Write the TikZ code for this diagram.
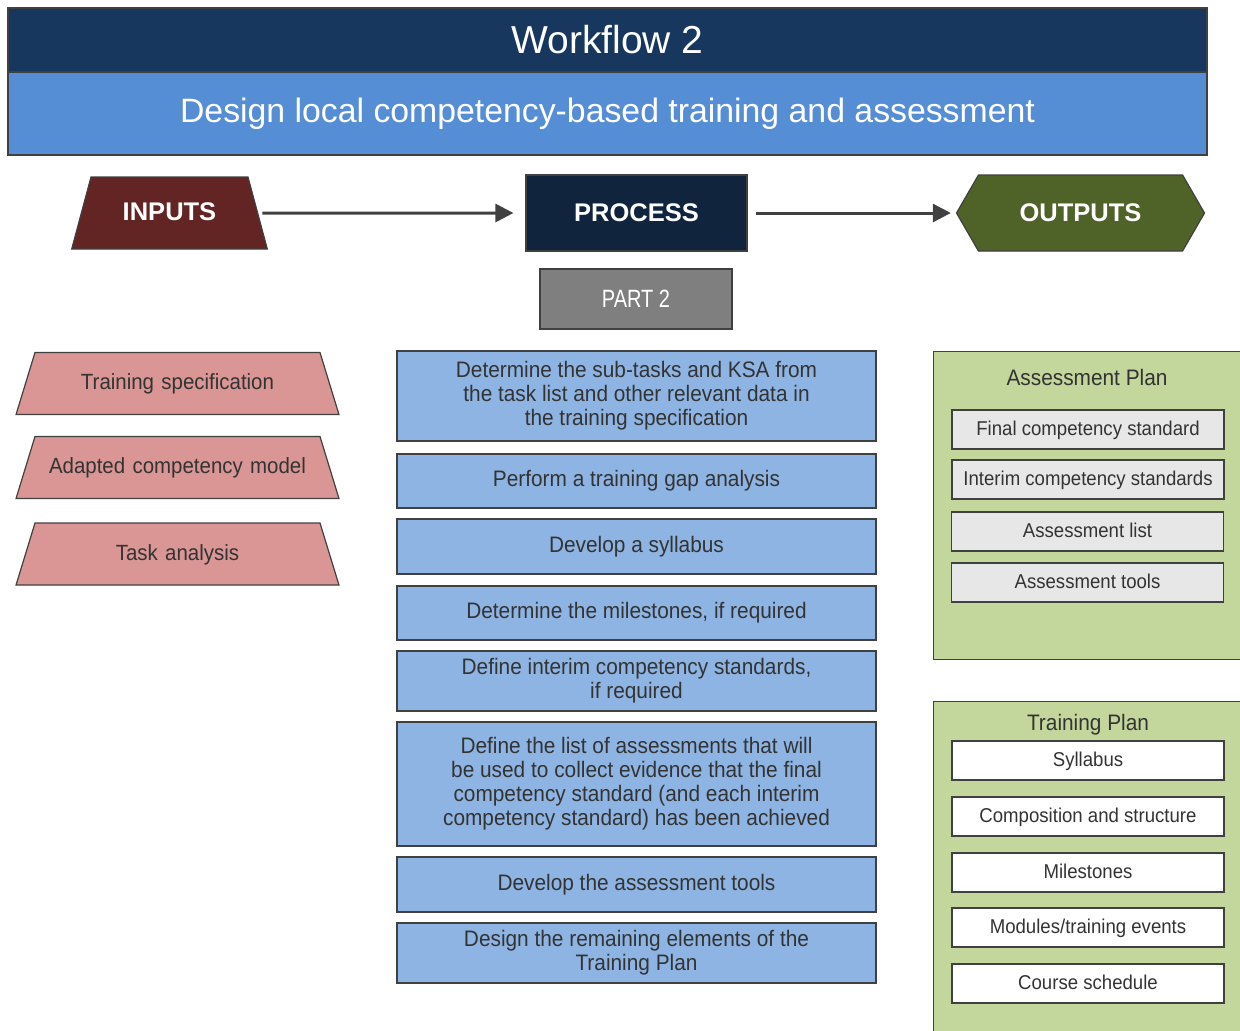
\documentclass[tikz,border=0pt]{standalone}
\usepackage{fontspec}
\setmainfont{Liberation Sans}
\newfontfamily\narrowfont[FakeStretch=0.93]{Liberation Sans}
\newfontfamily\partfont[FakeStretch=0.8]{Liberation Sans}
\usetikzlibrary{shapes.geometric,shapes.symbols,arrows.meta}
\definecolor{titleblue}{HTML}{17375E}
\definecolor{subblue}{HTML}{558ED5}
\definecolor{inred}{HTML}{632523}
\definecolor{procnavy}{HTML}{10243E}
\definecolor{outgreen}{HTML}{4F6228}
\definecolor{partgray}{HTML}{7F7F7F}
\definecolor{inpink}{HTML}{D99694}
\definecolor{stepblue}{HTML}{8EB4E3}
\definecolor{plangreen}{HTML}{C3D69B}
\definecolor{itemgray}{HTML}{E7E7E7}
\definecolor{edgegray}{HTML}{404040}
\definecolor{textgray}{HTML}{333333}
\tikzset{
  box/.style={draw=edgegray, line width=0.6pt, inner sep=0pt, align=center},
  titlebar/.style={box, fill=titleblue, text=white, minimum width=599.5pt, font=\fontsize{19.5}{22}\selectfont},
  subbar/.style={titlebar, fill=subblue, font=\fontsize{16.9}{20}\selectfont},
  head/.style={box, text=white, minimum height=37pt, font=\bfseries\fontsize{12.75}{15}\selectfont},
  inhead/.style={box, trapezium, trapezium left angle=75, trapezium right angle=75, fill=inred, text=white, font=\bfseries\fontsize{12.75}{15}\selectfont, text width=78.5pt, text height=9.5pt, text depth=2pt, inner ysep=12.25pt},
  prochead/.style={head, fill=procnavy, minimum width=110.5pt},
  outhead/.style={head, signal, signal to=east and west, signal pointer angle=120, fill=outgreen, minimum width=124pt},
  partbox/.style={box, fill=partgray, text=white, minimum width=96pt, minimum height=30pt, font=\partfont\fontsize{12.5}{14}\selectfont},
  inbox/.style={box, trapezium, trapezium left angle=73, trapezium right angle=73, fill=inpink, text=textgray, text width=142.5pt, text height=9pt, text depth=3pt, inner ysep=9.5pt, font=\narrowfont\fontsize{11}{12}\selectfont},
  stepbox/.style={box, fill=stepblue, text=textgray, minimum width=239.5pt, font=\narrowfont\fontsize{11.2}{12}\selectfont},
  plan/.style={box, fill=plangreen, anchor=north west, minimum width=156pt},
  plantitle/.style={text=textgray, font=\narrowfont\fontsize{11.2}{12}\selectfont},
  item/.style={box, fill=itemgray, text=textgray, minimum width=136pt, minimum height=19.5pt, text height=7.5pt, text depth=2pt, font=\narrowfont\fontsize{10}{12}\selectfont},
  whiteitem/.style={item, fill=white},
  flow/.style={draw=edgegray, line width=1.5pt, -{Triangle[length=9pt,width=9pt]}}
}
\begin{document}
\begin{tikzpicture}[x=0.5pt,y=-0.5pt]
\useasboundingbox (0,0) rectangle (1240,1030);
\node[titlebar, minimum height=32pt] (title) at (607.5,40) {Workflow 2};
\node[subbar, minimum height=41.5pt] (sub) at (607.5,113.5) {Design local competency-based training and assessment};

\node[inhead] (inputs) at (169.5,213) {INPUTS};
\node[prochead, minimum height=38pt] (process) at (636.5,213) {PROCESS};
\node[outhead, minimum height=38pt] (outputs) at (1080.5,213) {OUTPUTS};
\node[partbox] (part) at (636,299) {PART 2};
\draw[flow, shorten <=2pt, shorten >=6pt] (inputs.east) -- (process.west);
\draw[flow, shorten <=4pt, shorten >=2.5pt] (process.east) -- (outputs.west);

\node[inbox] (spec) at (177.5,383.5) {Training specification};
\node[inbox] (model) at (177.5,467.5) {Adapted competency model};
\node[inbox] (task) at (177.5,554) {Task analysis};

\node[stepbox, minimum height=45pt] (s1) at (636.5,396) {Determine the sub-tasks and KSA from\\the task list and other relevant data in\\the training specification};
\node[stepbox, minimum height=27pt] (s2) at (636.5,481) {Perform a training gap analysis};
\node[stepbox, minimum height=27.5pt] (s3) at (636.5,546.5) {Develop a syllabus};
\node[stepbox, minimum height=27pt] (s4) at (636.5,613) {Determine the milestones, if required};
\node[stepbox, minimum height=30pt] (s5) at (636.5,681) {Define interim competency standards,\\if required};
\node[stepbox, minimum height=62pt] (s6) at (636.5,784) {Define the list of assessments that will\\be used to collect evidence that the final\\competency standard (and each interim\\competency standard) has been achieved};
\node[stepbox, minimum height=27.5pt] (s7) at (636.5,884.5) {Develop the assessment tools};
\node[stepbox, minimum height=30pt] (s8) at (636.5,953) {Design the remaining elements of the\\Training Plan};

\node[plan, minimum height=154pt] (aplan) at (933,351) {};
\node[plantitle] (atitle) at (1087,377) {Assessment Plan};
\node[item] (a1) at (1088,429.5) {Final competency standard};
\node[item] (a2) at (1088,479.5) {Interim competency standards};
\node[item] (a3) at (1087.5,531.5) {Assessment list};
\node[item] (a4) at (1087.5,582.5) {Assessment tools};

\node[plan, minimum height=167pt] (tplan) at (933,701) {};
\node[plantitle] (ttitle) at (1088,725) {Training Plan};
\node[whiteitem] (t1) at (1088,760.5) {Syllabus};
\node[whiteitem] (t2) at (1088,816.5) {Composition and structure};
\node[whiteitem] (t3) at (1088,872.5) {Milestones};
\node[whiteitem] (t4) at (1088,927.5) {Modules/training events};
\node[whiteitem] (t5) at (1088,983.5) {Course schedule};
\end{tikzpicture}
\end{document}
